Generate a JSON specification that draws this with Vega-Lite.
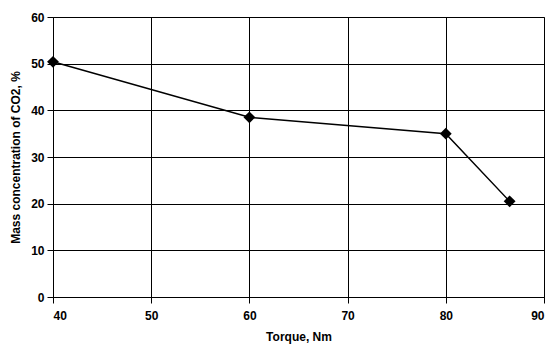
{
  "$schema": "https://vega.github.io/schema/vega-lite/v6.json",
  "width": 491,
  "height": 280,
  "autosize": {"type": "none"},
  "padding": {"left": 53, "top": 17, "right": 7, "bottom": 47},
  "background": "white",
  "config": {
    "view": {"stroke": "#666666", "strokeWidth": 1},
    "font": "Liberation Sans",
    "axis": {
      "labelFont": "Liberation Sans",
      "labelFontWeight": "bold",
      "labelFontSize": 12,
      "labelColor": "#000000",
      "titleFont": "Liberation Sans",
      "titleFontWeight": "bold",
      "titleFontSize": 12,
      "titleColor": "#000000",
      "domainColor": "#000000",
      "tickColor": "#000000",
      "gridColor": "#000000",
      "gridOpacity": 1,
      "gridWidth": 1,
      "tickSize": 6
    }
  },
  "data": {
    "values": [
      {"torque": 40, "co2": 50.4},
      {"torque": 60, "co2": 38.5},
      {"torque": 80, "co2": 35.0},
      {"torque": 86.5, "co2": 20.5}
    ]
  },
  "encoding": {
    "x": {
      "field": "torque",
      "type": "quantitative",
      "scale": {"domain": [40, 90], "nice": false, "zero": false},
      "axis": {"values": [40, 50, 60, 70, 80, 90], "title": "Torque, Nm", "labelPadding": 7, "titlePadding": 10}
    },
    "y": {
      "field": "co2",
      "type": "quantitative",
      "scale": {"domain": [0, 60], "nice": false},
      "axis": {"values": [0, 10, 20, 30, 40, 50, 60], "title": "Mass concentration of CO2, %", "labelPadding": 3, "titlePadding": 8}
    }
  },
  "layer": [
    {"mark": {"type": "line", "color": "#000000", "strokeWidth": 1.5}},
    {"mark": {"type": "point", "shape": "diamond", "filled": true, "color": "#000000", "opacity": 1, "size": 140}}
  ]
}
